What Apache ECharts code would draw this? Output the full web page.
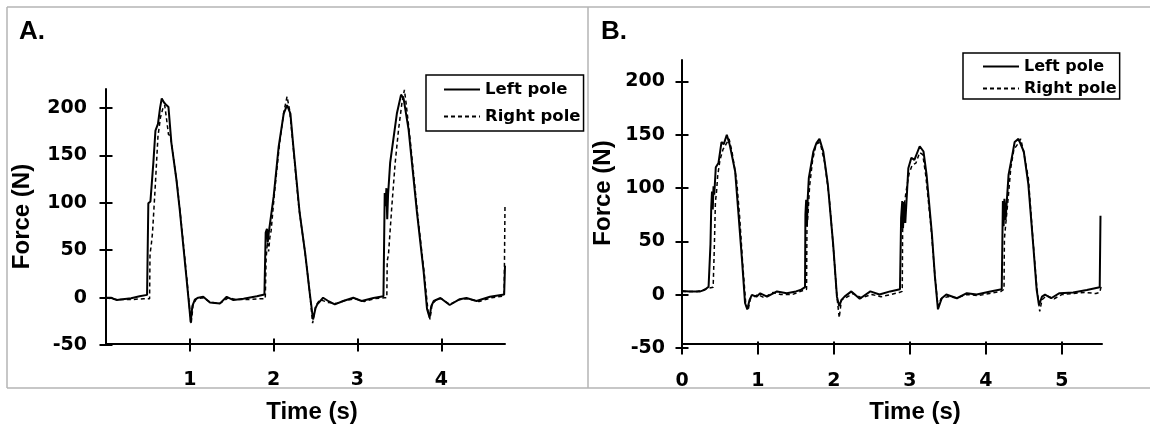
<!DOCTYPE html>
<html>
<head>
<meta charset="utf-8">
<script src="https://cdn.jsdelivr.net/npm/echarts@6/dist/echarts.min.js"></script>
<style>
html,body{margin:0;padding:0;background:#fff;}
#chart{width:1150px;height:429px;}
</style>
</head>
<body>
<div id="chart"></div>
<script>
// ---- DATA (time in s, force in N) ----
const panelLabels = ['A.', 'B.'];
const seriesNames = ['Left pole', 'Right pole'];
const yRange = [-50, 220];          // axis extent
const yTickRange = [-50, 200];      // labelled ticks, step 50
const xRangeA = [0, 4.76];
const xTickRangeA = [1, 4];         // labelled ticks 1..4, step 1
const xRangeB = [0, 5.53];
const xTickRangeB = [0, 5];         // labelled ticks 0..5, step 1

const aLeft = [[0,-1],[0.06,-1],[0.13,-3.5],[0.2,-2.5],[0.3,-1.5],[0.4,0.5],[0.49,2],
[0.50,2.5],[0.505,99],[0.53,101],[0.545,103],[0.565,142],[0.59,176],[0.62,183],[0.645,200],[0.665,210],[0.69,206],[0.72,203],[0.745,201],[0.78,163],[0.84,124],[0.88,92],[0.92,56],[0.96,20],[0.995,-12],[1.01,-27],[1.03,-10],[1.06,-3],[1.1,-1],[1.16,0],[1.24,-6],[1.36,-7],[1.44,0],[1.52,-3.5],[1.64,-2],[1.8,0.5],[1.89,2.5],
[1.9,3],[1.905,68],[1.92,72],[1.93,58],[1.945,70],[1.96,71],[2.0,106],[2.06,159],[2.12,194],[2.16,203],[2.175,205],[2.2,194],[2.235,159],[2.31,89],[2.375,47],[2.43,4.5],[2.47,-24],[2.5,-12],[2.52,-8],[2.59,-1],[2.66,-5],[2.73,-8],[2.83,-4.5],[2.95,-1],[3.05,-4.5],[3.19,-1.3],[3.31,0.5],
[3.32,1],[3.325,110],[3.335,96],[3.345,115],[3.355,82],[3.365,108],[3.39,142],[3.47,194],[3.52,214],[3.55,210],[3.61,177],[3.71,89],[3.79,26],[3.83,-13],[3.86,-22],[3.88,-10],[3.91,-4.5],[3.99,-1.3],[4.10,-8.7],[4.22,-2.6],[4.30,-1.3],[4.42,-4.5],[4.58,0],[4.75,2.5],[4.76,33]];

const aRight = [[0,-1],[0.13,-3],[0.3,-3],[0.45,-2],[0.52,-2],[0.525,45],[0.54,55],[0.555,68],[0.585,113],[0.62,170],[0.65,190],[0.68,200],[0.70,203],[0.72,190],[0.745,172],[0.77,170],[0.80,150],[0.85,118],[0.89,85],[0.93,50],[0.97,14],[1.0,-15],[1.015,-29],[1.04,-8],[1.08,-2],[1.16,-1],[1.25,-6],[1.36,-7],[1.46,-1],[1.55,-3],[1.7,-3],[1.85,-2],[1.9,-2],[1.91,40],[1.925,58],[1.94,48],[1.955,63],[1.97,70],[2.01,110],[2.07,162],[2.12,195],[2.16,212],[2.19,198],[2.23,162],[2.3,95],[2.37,50],[2.43,5],[2.465,-28],[2.5,-10],[2.55,-3],[2.65,-6],[2.75,-7],[2.85,-4],[2.97,-2],[3.08,-5],[3.2,-2],[3.32,-1],[3.35,-1],[3.355,38],[3.37,45],[3.41,96],[3.45,142],[3.49,177],[3.53,205],[3.56,219],[3.58,205],[3.63,165],[3.72,85],[3.8,22],[3.84,-14],[3.865,-24],[3.89,-8],[3.95,-2],[4.0,-2],[4.1,-8],[4.22,-3],[4.32,-2],[4.45,-5],[4.6,-1],[4.75,1],[4.755,1],[4.76,98]];

const bLeft = [[0,0.5],[0.1,0],[0.24,0],[0.3,1.5],[0.35,4.5],[0.37,5],[0.375,45],[0.385,80],[0.395,95],[0.405,78],[0.415,100],[0.425,92],[0.445,118],[0.48,122],[0.52,142],[0.55,140],[0.59,149],[0.63,139],[0.70,114],[0.74,77],[0.79,30],[0.83,-11],[0.86,-17],[0.89,-8],[0.92,-3.3],[0.98,-5],[1.03,-1.8],[1.12,-5],[1.25,0],[1.38,-1.8],[1.5,0],[1.56,1.3],[1.62,4],[1.625,73],[1.635,87],[1.645,62],[1.655,88],[1.67,108],[1.73,133],[1.77,141],[1.81,145],[1.86,133],[1.92,102],[1.99,45],[2.04,-5],[2.07,-14],[2.1,-8],[2.14,-5],[2.23,0],[2.34,-7],[2.48,0],[2.6,-3],[2.74,0],[2.87,2],[2.88,2.5],[2.885,70],[2.9,86],[2.91,60],[2.925,85],[2.94,65],[2.98,117],[3.02,127],[3.06,125],[3.13,138],[3.18,133],[3.22,111],[3.29,55],[3.33,14],[3.37,-17],[3.42,-6.5],[3.48,-3],[3.62,-6.5],[3.75,-1.7],[3.88,-3],[4.06,0],[4.21,2],[4.215,3],[4.225,86],[4.235,62],[4.245,88],[4.26,68],[4.30,111],[4.35,130],[4.38,142],[4.43,145],[4.50,133],[4.56,102],[4.63,39],[4.67,1.4],[4.70,-13],[4.74,-5],[4.78,-3],[4.86,-6.5],[4.97,-1.7],[5.15,-1],[5.33,1.3],[5.50,4],[5.51,72]];

const bRight = [[0,0],[0.2,0],[0.35,3],[0.41,4],[0.42,5],[0.425,40],[0.44,85],[0.455,95],[0.47,110],[0.5,125],[0.54,135],[0.58,140],[0.62,145],[0.66,132],[0.72,105],[0.76,70],[0.8,25],[0.84,-12],[0.87,-18],[0.9,-7],[0.95,-5],[1.0,-3],[1.08,-6],[1.2,-1],[1.3,-3],[1.45,-3],[1.6,1],[1.64,2],[1.645,60],[1.66,75],[1.68,100],[1.72,125],[1.76,138],[1.8,142],[1.83,138],[1.88,122],[1.94,88],[2.0,35],[2.04,-5],[2.07,-25],[2.1,-8],[2.16,-6],[2.25,-2],[2.36,-6],[2.5,-3],[2.62,-5],[2.75,-3],[2.86,-1],[2.9,0],[2.905,60],[2.92,78],[2.95,95],[2.99,112],[3.03,120],[3.08,122],[3.13,132],[3.17,130],[3.21,110],[3.28,60],[3.33,15],[3.37,-14],[3.41,-7],[3.5,-5],[3.62,-6],[3.75,-3],[3.9,-4],[4.05,-2],[4.2,0],[4.24,2],[4.245,50],[4.26,62],[4.29,85],[4.33,118],[4.37,135],[4.42,140],[4.46,145],[4.5,132],[4.56,108],[4.62,50],[4.67,5],[4.71,-19],[4.74,-8],[4.8,-4],[4.9,-7],[5.0,-3],[5.15,-2],[5.3,-1],[5.45,-2],[5.5,-1],[5.52,5]];

// ---- LAYOUT (pixels) ----
const plotA = {left: 106, top: 89, width: 399, height: 256};
const plotB = {left: 682, top: 60, width: 420, height: 288};

const TICK_FONT = {fontFamily: 'DejaVu Sans', fontWeight: 'bold', fontSize: 19, color: '#000'};
const NAME_FONT = {fontFamily: 'Liberation Sans', fontWeight: 'bold', fontSize: 24, color: '#000'};
const TICK_LINE = {color: '#000', width: 2};
const TICK_LEN = 6.5;

// sub-grid that spans exactly the labelled tick range, so ticks stop at the last label
function tickGrid(plot, xr, xt) {
  const yScale = plot.height / (yRange[1] - yRange[0]);
  const xScale = plot.width / (xr[1] - xr[0]);
  return {
    left: plot.left + (xt[0] - xr[0]) * xScale,
    width: (xt[1] - xt[0]) * xScale,
    top: plot.top + (yRange[1] - yTickRange[1]) * yScale,
    height: (yTickRange[1] - yTickRange[0]) * yScale,
    yOffset: (xt[0] - xr[0]) * xScale
  };
}
const tgA = tickGrid(plotA, xRangeA, xTickRangeA);
const tgB = tickGrid(plotB, xRangeB, xTickRangeB);

function mainX(gridIndex, xr, namePad) {
  return {type: 'value', gridIndex, position: 'bottom', min: xr[0], max: xr[1], name: 'Time (s)', nameLocation: 'middle', nameGap: 56,
    nameTextStyle: Object.assign({padding: namePad}, NAME_FONT),
    axisLine: {show: true, onZero: false, lineStyle: {color: '#000', width: 2}},
    splitLine: {show: false}, axisTick: {show: false}, axisLabel: {show: false}};
}
function mainY(gridIndex, nameGap, namePad) {
  return {type: 'value', gridIndex, position: 'left', min: yRange[0], max: yRange[1], name: 'Force (N)', nameLocation: 'middle', nameGap,
    nameMoveOverlap: false,
    nameTextStyle: Object.assign({padding: namePad}, NAME_FONT),
    axisLine: {show: true, onZero: false, lineStyle: {color: '#000', width: 2}},
    splitLine: {show: false}, axisTick: {show: false}, axisLabel: {show: false}};
}
function tickX(gridIndex, xt, inside, margin) {
  return {type: 'value', gridIndex, position: 'bottom', min: xt[0], max: xt[1], interval: 1,
    axisLine: {show: false, onZero: false}, splitLine: {show: false},
    axisTick: {show: true, inside, length: TICK_LEN, lineStyle: TICK_LINE},
    axisLabel: inside ? {show: false} : Object.assign({show: true, margin}, TICK_FONT)};
}
// y axis used for ticks only (inside or outside)
function tickY(gridIndex, offset, inside) {
  return {type: 'value', gridIndex, position: 'left', min: yTickRange[0], max: yTickRange[1], interval: 50, offset,
    axisLine: {show: false, onZero: false}, splitLine: {show: false},
    axisTick: {show: true, inside, length: TICK_LEN, lineStyle: TICK_LINE},
    axisLabel: {show: false}};
}
// y axis used for the tick labels only
function labelY(gridIndex, offset, margin) {
  return {type: 'value', gridIndex, position: 'left', min: yTickRange[0], max: yTickRange[1], interval: 50, offset,
    axisLine: {show: false, onZero: false}, splitLine: {show: false}, axisTick: {show: false},
    axisLabel: Object.assign({show: true, margin}, TICK_FONT)};
}
function legend(left, top, padding, itemGap, fontSize) {
  return {orient: 'vertical', left, top, padding, itemGap, itemWidth: 36, itemHeight: 14,
    borderColor: '#000', borderWidth: 1.5, backgroundColor: '#fff', selectedMode: false,
    itemStyle: {opacity: 0, borderWidth: 0},
    data: seriesNames,
    textStyle: {fontFamily: 'DejaVu Sans', fontWeight: 'bold', fontSize, color: '#000', lineHeight: 17}};
}
function lineSeries(name, data, xi, yi, dashed) {
  return {type: 'line', name, data, xAxisIndex: xi, yAxisIndex: yi, symbol: 'none', showSymbol: false,
    animation: false, z: dashed ? 3 : 2, itemStyle: {color: '#000'},
    lineStyle: dashed ? {color: '#000', width: 1.5, type: [4, 3]} : {color: '#000', width: 2}};
}

const frameStyle = {stroke: '#b4b4b4', lineWidth: 1.5};
const option = {
  backgroundColor: '#fff',
  animation: false,
  title: [
    {text: panelLabels[0], left: 19, top: 19, padding: 0, textStyle: {fontFamily: 'Liberation Sans', fontWeight: 'bold', fontSize: 26, color: '#000'}},
    {text: panelLabels[1], left: 601, top: 19, padding: 0, textStyle: {fontFamily: 'Liberation Sans', fontWeight: 'bold', fontSize: 26, color: '#000'}}
  ],
  grid: [
    plotA, plotB,
    {left: tgA.left, top: tgA.top, width: tgA.width, height: tgA.height, outerBoundsMode: 'none'},
    {left: tgB.left, top: tgB.top, width: tgB.width, height: tgB.height, outerBoundsMode: 'none'}
  ],
  xAxis: [
    mainX(0, xRangeA, [0, 0, 0, 13]),
    mainX(1, xRangeB, [0, 0, 0, 46]),
    tickX(2, xTickRangeA, false, 26), tickX(2, xTickRangeA, true),
    tickX(3, xTickRangeB, false, 24), tickX(3, xTickRangeB, true)
  ],
  yAxis: [
    mainY(0, 72, [0, 0, 0, 0]),
    mainY(1, 67, [0, 0, 0, 18]),
    tickY(2, tgA.yOffset, false), tickY(2, tgA.yOffset, true), labelY(2, tgA.yOffset - 26, 45),
    tickY(3, tgB.yOffset, false), tickY(3, tgB.yOffset, true), labelY(3, tgB.yOffset, 17)
  ],
  legend: [legend(426, 75, [6, 3, 6, 17], 10, 16.5), legend(963, 53, [5, 3, 2, 19], 5, 16)],
  graphic: [
    {type: 'line', shape: {x1: 7, y1: 7, x2: 1150, y2: 7}, style: frameStyle},
    {type: 'line', shape: {x1: 7, y1: 388, x2: 1150, y2: 388}, style: frameStyle},
    {type: 'line', shape: {x1: 7, y1: 7, x2: 7, y2: 388}, style: frameStyle},
    {type: 'line', shape: {x1: 588, y1: 7, x2: 588, y2: 388}, style: frameStyle}
  ],
  series: [
    lineSeries(seriesNames[0], aLeft, 0, 0, false),
    lineSeries(seriesNames[1], aRight, 0, 0, true),
    lineSeries(seriesNames[0], bLeft, 1, 1, false),
    lineSeries(seriesNames[1], bRight, 1, 1, true)
  ]
};
const chart = echarts.init(document.getElementById('chart'), null, {renderer: 'canvas'});
chart.setOption(option);
</script>
</body>
</html>
